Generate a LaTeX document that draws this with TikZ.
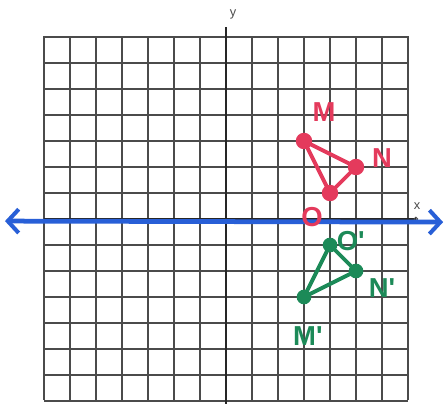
\documentclass[tikz,border=0pt]{standalone}
\usepackage{fontspec}
\setmainfont{Liberation Sans}
\usetikzlibrary{arrows.meta}
\definecolor{gridc}{RGB}{75,75,75}
\definecolor{penred}{RGB}{228,58,92}
\definecolor{pengreen}{RGB}{28,138,88}
\definecolor{penblue}{RGB}{40,95,215}
\tikzset{
  gridline/.style={draw=gridc, line width=0.7pt},
  axisline/.style={draw=black!85, line width=0.9pt},
  numberline/.style={draw=penblue, line width=2.6pt, line cap=round,
    {Straight Barb[length=6pt,width=13pt,line width=2.2pt]}-{Straight Barb[length=6pt,width=13pt,line width=2.2pt]}},
  redtri/.style={draw=penred, line width=2.1pt, line join=round},
  greentri/.style={draw=pengreen, line width=2.1pt, line join=round},
  reddot/.style={circle, fill=penred, inner sep=0pt, minimum size=9pt},
  greendot/.style={circle, fill=pengreen, inner sep=0pt, minimum size=8pt},
  redlab/.style={text=penred, font=\fontsize{15}{15}\selectfont\bfseries},
  greenlab/.style={text=pengreen, font=\fontsize{15}{15}\selectfont\bfseries},
  axislab/.style={text=gridc, font=\fontsize{7}{7}\selectfont},
}
\begin{document}
\begin{tikzpicture}[x=0.5cm,y=0.5cm]
\useasboundingbox (-8.692,-7.115) rectangle (8.423,8.423);
\fill[white] (-8.692,-7.115) rectangle (8.423,8.423);
% grid
\foreach \i in {-7,...,7} {
  \draw[gridline] (\i,-6.96) -- (\i,7.04);
  \draw[gridline] (-7,\i) -- (7,\i);
}
% axes
\coordinate (ytop) at (0,7.4);
\coordinate (ybot) at (0,-7.115);
\coordinate (xleft) at (-7,0);
\coordinate (xright) at (7.3,0);
\draw[axisline] (ybot) -- (ytop);
\draw[axisline] (xleft) -- (xright);
\draw[gridc, line width=0.5pt] (7.3,0) circle (0.07);
\node[axislab] (ylab) at (0.27,7.85) {y};
\node[axislab] (xlab) at (7.35,0.5) {x};
% number line
\coordinate (bl) at (-8.5,-0.08);
\coordinate (br) at (8.35,-0.12);
\draw[numberline] (bl) -- (br);
% red triangle
\node[reddot] (M) at (3,3) {};
\node[reddot] (N) at (5,2) {};
\node[reddot] (O) at (4,1) {};
\draw[redtri] (M.center) -- (N.center) -- (O.center) -- cycle;
\node[redlab] (Mlab) at (3.77,4.12) {M};
\node[redlab] (Nlab) at (6.0,2.35) {N};
\node[redlab] (Olab) at (3.31,0.08) {O};
% green triangle
\node[greendot] (Mp) at (3,-3) {};
\node[greendot] (Np) at (5,-2) {};
\node[greendot] (Op) at (4,-1) {};
\draw[greentri] (Mp.center) -- (Np.center) -- (Op.center) -- cycle;
\node[greenlab] (Oplab) at (4.8,-0.85) {O\textquotesingle};
\node[greenlab] (Nplab) at (6.0,-2.65) {N\textquotesingle};
\node[greenlab] (Mplab) at (3.15,-4.5) {M\textquotesingle};
\end{tikzpicture}
\end{document}
